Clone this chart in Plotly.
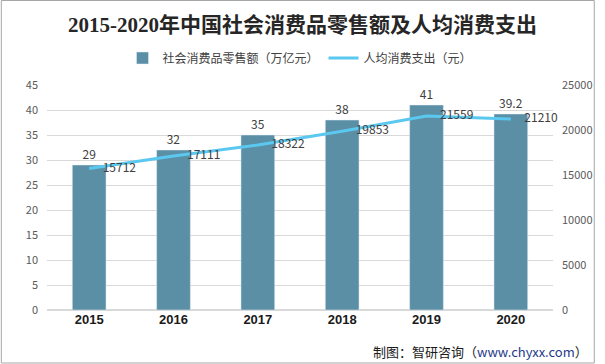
import plotly.graph_objects as go

years = ["2015", "2016", "2017", "2018", "2019", "2020"]
retail_sales = [29, 32, 35, 38, 41, 39.2]
per_capita = [15712, 17111, 18322, 19853, 21559, 21210]
left_ticks = [0, 5, 10, 15, 20, 25, 30, 35, 40, 45]
right_ticks = [0, 5000, 10000, 15000, 20000, 25000]

L, R, T, B = 47, 43, 85, 54
W, H = 605, 364
pw, ph = W - L - R, H - T - B

fig = go.Figure()
fig.add_trace(go.Bar(
    x=years, y=retail_sales, name="社会消费品零售额（万亿元）",
    marker=dict(color="#5B8FA6"), width=0.4,
    text=[str(v) for v in retail_sales], textposition="outside",
    textfont=dict(color="#404040", size=12), cliponaxis=False,
))
fig.add_trace(go.Scatter(
    x=years, y=per_capita, name="人均消费支出（元）", yaxis="y2",
    mode="lines", line=dict(color="#5BC8F0", width=3),
))
fig.add_trace(go.Scatter(
    x=years, y=per_capita, yaxis="y2", showlegend=False, hoverinfo="skip",
    mode="markers+text", marker=dict(size=20, opacity=0, color="#5BC8F0"),
    text=[str(v) for v in per_capita], textposition="middle right",
    textfont=dict(color="#404040", size=12), cliponaxis=False,
))

fig.update_layout(
    width=W, height=H,
    margin=dict(l=L, r=R, t=T, b=B),
    paper_bgcolor="white", plot_bgcolor="white",
    font=dict(family="Noto Sans CJK SC, sans-serif", color="#595959"),
    title=dict(text="<b>2015-2020年中国社会消费品零售额及人均消费支出</b>",
               x=0.5, xanchor="center", y=1 - 25 / H, yanchor="middle",
               font=dict(family="Liberation Serif, Noto Sans CJK SC", size=21, color="#262626")),
    legend=dict(orientation="h", x=0.5, xanchor="center", y=1 + 27 / ph, yanchor="middle",
                font=dict(size=12, color="#404040"), itemwidth=30, traceorder="normal"),
    bargap=0.6,
    xaxis=dict(tickfont=dict(family="Liberation Sans, Arial", size=13, color="#1a1a1a"),
               tickprefix="<b>", ticksuffix="</b>", showline=False, ticks=""),
    yaxis=dict(range=[0, 45], tickvals=left_ticks, showgrid=True, gridcolor="#D9D9D9",
               zeroline=True, zerolinecolor="#D9D9D9", tickfont=dict(size=11, color="#595959"),
               ticks="", ticklabelstandoff=8),
    yaxis2=dict(range=[0, 25000], tickvals=right_ticks, ticktext=[str(v) for v in right_ticks],
                overlaying="y", side="right",
                showgrid=False, zeroline=False, tickfont=dict(size=11, color="#595959"),
                ticklabelstandoff=8),
    shapes=[dict(type="rect", xref="paper", yref="paper",
                 x0=-L / pw + 0.5 / pw, x1=1 + (R - 1) / pw, y0=-(B - 1) / ph, y1=1 + (T - 0.5) / ph,
                 line=dict(color="#A6A6A6", width=1))],
    annotations=[dict(text="制图：智研咨询（<span style='color:#1F3A8A'>www.chyxx.com</span>）",
                      xref="paper", yref="paper", x=1 + (R - 5) / pw, y=-41 / ph,
                      xanchor="right", yanchor="middle", showarrow=False,
                      font=dict(size=13, color="#1a1a1a"))],
)

fig.write_html("out.html", config={"displayModeBar": False},
               post_script="document.body.style.margin='0';")
